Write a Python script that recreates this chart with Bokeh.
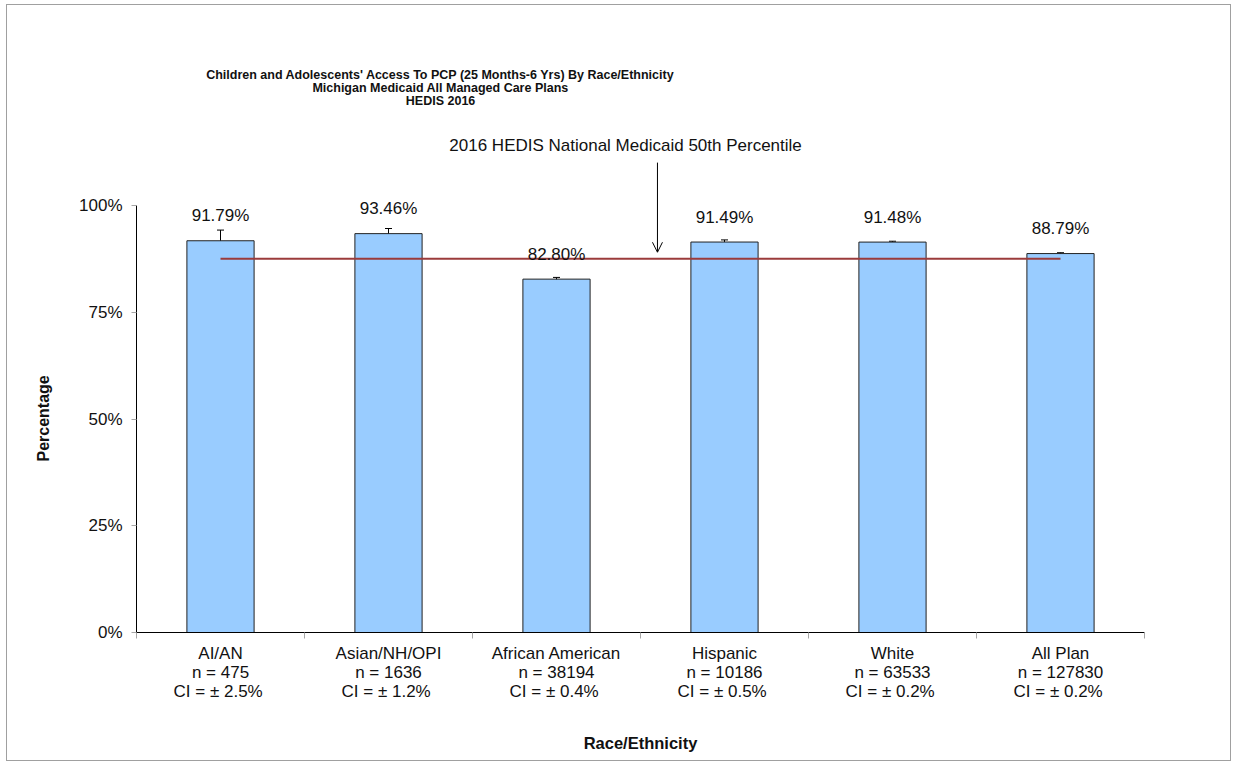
from bokeh.plotting import figure
from bokeh.models import (Range1d, FixedTicker, PrintfTickFormatter, Whisker, TeeHead,
                          ColumnDataSource, Label, Arrow, OpenHead, Title)
from bokeh.core.properties import value
from bokeh.embed import file_html
from bokeh.resources import INLINE

categories = ["AI/AN", "Asian/NH/OPI", "African American", "Hispanic", "White", "All Plan"]
n_values = [475, 1636, 38194, 10186, 63533, 127830]
ci_values = [2.5, 1.2, 0.4, 0.5, 0.2, 0.2]
rates = [91.79, 93.46, 82.80, 91.49, 91.48, 88.79]
benchmark = 87.6
y_ticks = [0, 25, 50, 75, 100]

FONT = "Liberation Sans"
xs = [i + 0.5 for i in range(len(categories))]

src = ColumnDataSource(dict(
    x=xs, top=rates,
    lower=[r - c for r, c in zip(rates, ci_values)],
    upper=[r + c for r, c in zip(rates, ci_values)],
    lbl=["%.2f%%" % r for r in rates],
))

p = figure(width=1225, height=757, output_backend="svg", toolbar_location=None,
           x_range=Range1d(0, len(categories)), y_range=Range1d(0, 143.4),
           min_border_left=129, min_border_right=88, min_border_top=15, min_border_bottom=130)
p.styles = {"border": "1px solid #a0a0a0", "margin-left": "6px", "margin-top": "4px"}
p.outline_line_color = None
p.xgrid.visible = False
p.ygrid.visible = False

p.vbar(x="x", top="top", width=0.4, bottom=0, source=src,
       fill_color="#99ccff", line_color="#222222", line_width=1)

w = Whisker(base="x", lower="lower", upper="upper", source=src, line_color="black", line_width=1,
            lower_head=TeeHead(size=7, line_color="black", line_width=1),
            upper_head=TeeHead(size=7, line_color="black", line_width=1))
p.add_layout(w)

p.segment(x0=[xs[0]], y0=[benchmark], x1=[xs[-1]], y1=[benchmark], line_color="#9b3b3b", line_width=2)

p.text(x="x", y="top", text="lbl", source=src, text_font=value(FONT), text_font_size="17px",
       text_align="center", text_baseline="middle", y_offset=-25, text_color="#111111")

# y axis
yax = p.yaxis[0]
yax.bounds = (0, 100)
yax.ticker = FixedTicker(ticks=y_ticks)
yax.formatter = PrintfTickFormatter(format="%d%%")
yax.major_tick_out = 5
yax.major_tick_in = 0
yax.minor_tick_out = 0
yax.minor_tick_in = 0
yax.major_tick_line_color = "#a6a6a6"
yax.axis_line_color = "black"
yax.major_label_text_font = FONT
yax.major_label_text_font_size = "17px"
yax.major_label_text_color = "#111111"
yax.major_label_standoff = 9

ytitle = Title(text="Percentage", align="left", offset=171, standoff=49,
               text_font=FONT, text_font_style="bold", text_font_size="16px",
               text_color="#111111")
p.add_layout(ytitle, "left")

# x axis
xax = p.xaxis[0]
xax.ticker = FixedTicker(ticks=xs, minor_ticks=list(range(len(categories) + 1)))
xax.major_label_overrides = {x: "%s\nn = %d\nCI =  \u00b1 %.1f%%" % (c, n, ci)
                             for x, c, n, ci in zip(xs, categories, n_values, ci_values)}
xax.major_tick_out = 0
xax.major_tick_in = 0
xax.minor_tick_out = 6
xax.minor_tick_in = 0
xax.minor_tick_line_color = "#a6a6a6"
xax.axis_line_color = "black"
xax.major_label_text_font = FONT
xax.major_label_text_font_size = "17px"
xax.major_label_text_color = "#111111"
xax.major_label_text_line_height = 1.01
xax.major_label_standoff = 5
xax.axis_label = "Race/Ethnicity"
xax.axis_label_text_font = FONT
xax.axis_label_text_font_style = "bold"
xax.axis_label_text_font_size = "16.5px"
xax.axis_label_text_color = "#111111"
xax.axis_label_standoff = 30

title = Label(x=1.81, y=127.5, text="Children and Adolescents' Access To PCP (25 Months-6 Yrs) By Race/Ethnicity\nMichigan Medicaid All Managed Care Plans\nHEDIS 2016",
              text_font=FONT, text_font_style="bold", text_font_size="12.5px",
              text_align="center", text_baseline="middle", text_line_height=0.92,
              text_color="#111111")
p.add_layout(title)

note = Label(x=2.911, y=114.1, text="2016 HEDIS National Medicaid 50th Percentile",
             text_font=FONT, text_font_size="17px", text_align="center", text_baseline="middle",
             text_color="#111111")
p.add_layout(note)

arrow = Arrow(x_start=3.101, y_start=110.1, x_end=3.101, y_end=89.1, line_color="black", line_width=1,
              end=OpenHead(size=10, line_color="black", line_width=1))
p.add_layout(arrow)

open("out.html", "w").write(file_html(p, INLINE))
